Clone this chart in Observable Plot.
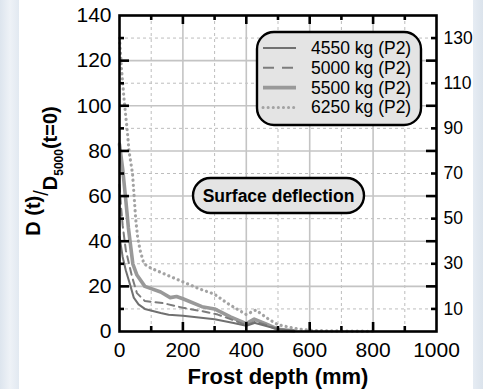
<!DOCTYPE html>
<html><head><meta charset="utf-8">
<script src="https://cdn.jsdelivr.net/npm/d3@7"></script>
<script src="https://cdn.jsdelivr.net/npm/@observablehq/plot@0.6"></script>
<style>
html,body{margin:0;padding:0;}
body{width:483px;height:389px;overflow:hidden;background:linear-gradient(90deg,#dde5ee 0px,#eef2f7 10px,#e2e9f1 19px,#ffffff 19px,#ffffff 473px,#e6ecf3 473px,#dbe3ec 483px);}
#chart svg{display:block;}
</style></head>
<body><div id="chart"></div>
<script>
// Frost depth (mm) and normalised surface deflection per load
const x4550 = [0,10,20,35,45,60,80,130,155,200,300,360,400,428,460,500,550];
const y4550 = [42,33,27,20,15,12,10,8.2,7.4,7,5.4,3.8,2.5,3.8,2.5,1,0.3];
const x5000 = [0,5,10,20,30,40,55,80,140,200,260,310,350,400,428,460,500,550];
const y5000 = [65,55,47,36,30,24,17,13.5,12.5,10.5,9,7.5,5.5,2.8,4.3,3,1,0.3];
const x5500 = [0,10,20,28,35,42,55,80,130,160,180,200,260,300,350,400,425,460,500,550];
const y5500 = [83,72,58,46,38,30,25,20,17.5,15,15.5,14.5,11,10,6.5,3.5,5.5,3.5,1,0.3];
const x6250 = [0,7,15,25,30,41,46,51,57,65,77,100,150,200,250,300,340,400,430,470,500,560,600,700,800];
const y6250 = [130,115,102,88,80,70,60,50,42,36,30,28,25,22,19,16.5,12.5,7.5,9.5,5.5,3,1.2,0.5,0.2,0.1];

const seriesNames = ["4550 kg (P2)","5000 kg (P2)","5500 kg (P2)","6250 kg (P2)"];
const xTicks = [0,200,400,600,800,1000];
const yTicksLeft = [0,20,40,60,80,100,120,140];
const yTicksRight = [10,30,50,70,90,110,130];
const xMajor = [200,400,600,800];
const xMinor = [100,300,500,700,900];
const yMajor = [20,40,60,80,100,120];
const yMinor = [10,30,50,70,90,110,130];

const toRows = (xs, ys) => xs.map((x,i) => ({x, y: ys[i]}));
const d4550 = toRows(x4550,y4550), d5000 = toRows(x5000,y5000),
      d5500 = toRows(x5500,y5500), d6250 = toRows(x6250,y6250);

const W = 483, H = 389, mL = 119, mR = 47, mT = 15, mB = 58;
const pw = W - mL - mR, ph = H - mT - mB;
const FONT = "'Liberation Sans', Arial, Helvetica, sans-serif";

const plot = Plot.plot({
  width: W, height: H,
  marginLeft: mL, marginRight: mR, marginTop: mT, marginBottom: mB,
  style: {fontFamily: FONT, color: "black", background: "transparent", overflow: "visible"},
  x: {domain: [0,1000]},
  y: {domain: [0,140]},
  marks: [
    Plot.ruleX(xMinor, {stroke: "#bdbdbd", strokeWidth: 1, strokeDasharray: "3,3"}),
    Plot.ruleY(yMinor, {stroke: "#bdbdbd", strokeWidth: 1, strokeDasharray: "3,3"}),
    Plot.ruleX(xMajor, {stroke: "#c4c4c4", strokeWidth: 1.6}),
    Plot.ruleY(yMajor, {stroke: "#c4c4c4", strokeWidth: 1.6}),
    Plot.line(d6250, {x: "x", y: "y", stroke: "#a3a3a3", strokeWidth: 3.2, strokeDasharray: "0.1,5", strokeLinecap: "round"}),
    Plot.line(d5500, {x: "x", y: "y", stroke: "#999999", strokeWidth: 3.6}),
    Plot.line(d5000, {x: "x", y: "y", stroke: "#7c7c7c", strokeWidth: 2, strokeDasharray: "7,5"}),
    Plot.line(d4550, {x: "x", y: "y", stroke: "#707070", strokeWidth: 2}),
    // inward ticks
    Plot.tickX(xMajor, {x: d => d, insetTop: ph - 9, stroke: "black", strokeWidth: 2.6}),
    Plot.tickX(xMinor, {x: d => d, insetTop: ph - 5, stroke: "black", strokeWidth: 2.6}),
    Plot.tickX(xMajor, {x: d => d, insetBottom: ph - 9, stroke: "black", strokeWidth: 2.6}),
    Plot.tickX(xMinor, {x: d => d, insetBottom: ph - 5, stroke: "black", strokeWidth: 2.6}),
    Plot.tickY(yMajor, {y: d => d, insetRight: pw - 10, stroke: "black", strokeWidth: 2.6}),
    Plot.tickY(yMinor, {y: d => d, insetRight: pw - 5, stroke: "black", strokeWidth: 2.6}),
    Plot.tickY(yMajor, {y: d => d, insetLeft: pw - 10, stroke: "black", strokeWidth: 2.6}),
    Plot.tickY(yMinor, {y: d => d, insetLeft: pw - 5, stroke: "black", strokeWidth: 2.6}),
    Plot.frame({stroke: "black", strokeWidth: 2.6}),
    Plot.axisX({ticks: xTicks, tickSize: 0, tickPadding: 11, fontSize: 21, label: null, tickFormat: d => String(d)}),
    Plot.axisY({ticks: yTicksLeft, tickSize: 0, tickPadding: 8, fontSize: 21, label: null, tickFormat: d => String(d)}),
    Plot.axisY({anchor: "right", ticks: yTicksRight, tickSize: 0, tickPadding: 7, fontSize: 17.5, label: null, tickFormat: d => String(d)})
  ]
});

document.getElementById("chart").appendChild(plot);
const svg = d3.select(plot);
svg.attr("font-family", FONT);
// white page panel behind everything
svg.insert("rect", ":first-child").attr("x", 19).attr("y", 0).attr("width", 454).attr("height", H).attr("fill", "white");

// Legend box
const lg = svg.append("g").attr("text-anchor", "start");
lg.append("rect").attr("x", 257).attr("y", 32).attr("width", 164).attr("height", 93)
  .attr("rx", 17).attr("fill", "#e4e4e4").attr("stroke", "black").attr("stroke-width", 2.4);
const legendStyles = [
  {stroke: "#707070", w: 2, dash: null, cap: "butt"},
  {stroke: "#7c7c7c", w: 2, dash: "11,8", cap: "butt"},
  {stroke: "#999999", w: 3.6, dash: null, cap: "butt"},
  {stroke: "#a3a3a3", w: 3, dash: "0.1,5", cap: "round"}
];
seriesNames.forEach((name, i) => {
  const cy = 48 + i * 19.8;
  const s = legendStyles[i];
  lg.append("line").attr("x1", 263).attr("x2", 296).attr("y1", cy).attr("y2", cy)
    .attr("stroke", s.stroke).attr("stroke-width", s.w).attr("stroke-dasharray", s.dash)
    .attr("stroke-linecap", s.cap);
  lg.append("text").attr("x", 311).attr("y", cy + 6).attr("text-anchor", "start")
    .attr("font-size", 17.5).attr("fill", "black").text(name);
});

// Annotation box
const ann = svg.append("g");
ann.append("rect").attr("x", 193).attr("y", 178).attr("width", 171).attr("height", 35)
  .attr("rx", 17.5).attr("fill", "#e4e4e4").attr("stroke", "black").attr("stroke-width", 2.4);
ann.append("text").attr("x", 278.5).attr("y", 202).attr("text-anchor", "middle")
  .attr("font-size", 17.5).attr("font-weight", "bold").attr("fill", "black").text("Surface deflection");

// X axis title
svg.append("text").attr("x", 278).attr("y", 384).attr("text-anchor", "middle")
  .attr("font-size", 22).attr("font-weight", "bold").attr("fill", "black").text("Frost depth (mm)");

// Y axis title: D (t) / D_5000 (t=0)
const yt = svg.append("text").attr("transform", "translate(57,171) rotate(-90)")
  .attr("text-anchor", "middle").attr("font-size", 20).attr("font-weight", "bold").attr("fill", "black");
yt.append("tspan").attr("dy", -17).text("D (t)");
yt.append("tspan").attr("dy", 8).attr("font-weight", "normal").text("/");
yt.append("tspan").attr("dy", 9).text("D");
yt.append("tspan").attr("dy", 6).attr("font-size", 12).text("5000");
yt.append("tspan").attr("dy", -6).text("(t=0)");
</script>
</body></html>
